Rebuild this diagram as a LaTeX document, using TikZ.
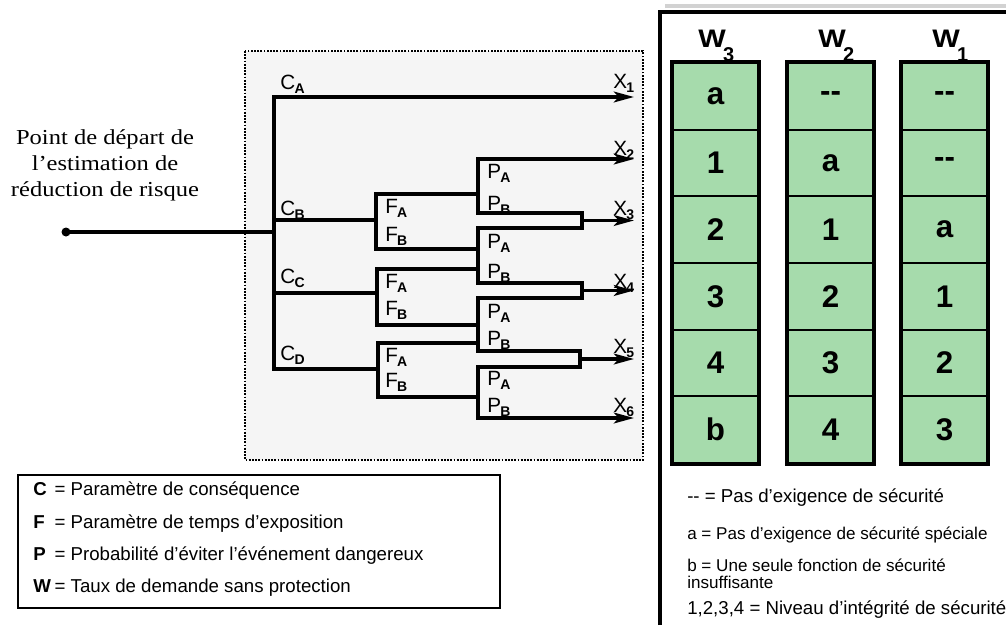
\documentclass[tikz,border=0pt]{standalone}
\usepackage{fontspec}
\setmainfont{Liberation Sans}
\newfontfamily\serifpt[FakeStretch=1.15]{Liberation Serif}
\usetikzlibrary{arrows.meta}

\definecolor{cellgreen}{RGB}{166,219,172}
\definecolor{boxgray}{RGB}{245,245,245}

% letter with its bold index, for the graph labels
\newcommand{\trl}[2]{#1\kern-0.5pt\raisebox{-3pt}{\fontsize{10.5}{10.5}\selectfont\bfseries #2}}
% column heads W1..W3
\newcommand{\wlbl}[1]{\scalebox{1.15}[1]{W}\kern-2pt\raisebox{-11pt}{\fontsize{15}{15}\selectfont #1}}

\begin{document}
\begin{tikzpicture}[x=0.75pt,y=0.75pt,yscale=-1,
  tree/.style={line width=2.6pt,line cap=rect},
  outarrow/.style={tree,-{Stealth[length=15pt,width=8pt,inset=3.5pt]}},
  lbl/.style={anchor=base west,inner sep=0pt,font=\fontsize{15.5}{15.5}\selectfont},
  wcell/.style={draw,line width=1.5pt,fill=cellgreen,minimum width=63.75pt,minimum height=50pt,inner sep=0pt,font=\bfseries\fontsize{23.5}{23.5}\selectfont},
  whead/.style={anchor=base west,inner sep=0pt,font=\bfseries\fontsize{19}{19}\selectfont},
  legl/.style={anchor=base west,inner sep=0pt,font=\fontsize{14}{16}\selectfont},
  legs/.style={anchor=base west,inner sep=0pt,font=\fontsize{12.8}{12.8}\selectfont}]

\useasboundingbox (0,0) rectangle (1006,625);

% dotted frame round the risk graph
\draw [fill=boxgray,line width=2pt,dash pattern=on 1.4pt off 1pt] (245,51) rectangle (643,460);

\node [anchor=north,inner sep=0pt,align=center,font=\serifpt\fontsize{16}{19.5}\selectfont] (startlbl) at (105,129) {Point de départ de\\l’estimation de\\réduction de risque};

% junctions of the graph
\coordinate (start) at (66,232);
\coordinate (root) at (274,232);
\coordinate (cA) at (274,97);
\coordinate (cB) at (274,220);
\coordinate (cC) at (274,293);
\coordinate (cD) at (274,369);

\coordinate (fB) at (376,220);
\coordinate (fBa) at (376,194);
\coordinate (fBb) at (376,249);
\coordinate (fC) at (377,293);
\coordinate (fCa) at (377,269);
\coordinate (fCb) at (377,325);
\coordinate (fD) at (378,369);
\coordinate (fDa) at (378,343);
\coordinate (fDb) at (378,397);

\coordinate (p1t) at (478,159);
\coordinate (p1a) at (478,194);
\coordinate (p1b) at (478,213);
\coordinate (p2t) at (478,228);
\coordinate (p2a) at (478,249);
\coordinate (p2c) at (478,269);
\coordinate (p2b) at (478,283);
\coordinate (p3t) at (478,298);
\coordinate (p3a) at (478,325);
\coordinate (p3c) at (478,343);
\coordinate (p3b) at (478,351);
\coordinate (p4t) at (478,367);
\coordinate (p4a) at (478,397);
\coordinate (p4b) at (478,418);

\coordinate (j1) at (582,220.5);
\coordinate (j2) at (582,290.5);
\coordinate (j3) at (580,359);

\coordinate (e1) at (634,97);
\coordinate (e2) at (634,159);
\coordinate (e3) at (634,220.5);
\coordinate (e4) at (634,290.5);
\coordinate (e5) at (634,359);
\coordinate (e6) at (634,418);

% C branches
\fill (start) circle (4.5);
\draw [tree] (start) -- (root);
\draw [tree] (cA) -- (cD);
\draw [outarrow] (cA) -- (e1);
\draw [tree] (cB) -- (fB);
\draw [tree] (cC) -- (fC);
\draw [tree] (cD) -- (fD);

% F branches
\draw [tree] (fBa) -- (fBb);
\draw [tree] (fCa) -- (fCb);
\draw [tree] (fDa) -- (fDb);
\draw [tree] (fBa) -- (p1a);
\draw [tree] (fBb) -- (p2a);
\draw [tree] (fCa) -- (p2c);
\draw [tree] (fCb) -- (p3a);
\draw [tree] (fDa) -- (p3c);
\draw [tree] (fDb) -- (p4a);

% P branches and outputs
\draw [tree] (p1t) -- (p1b);
\draw [tree] (p2t) -- (p2b);
\draw [tree] (p3t) -- (p3b);
\draw [tree] (p4t) -- (p4b);
\draw [outarrow] (p1t) -- (e2);
\draw [tree] (p1b) -| (j1) |- (p2t);
\draw [outarrow] (j1) -- (e3);
\draw [tree] (p2b) -| (j2) |- (p3t);
\draw [outarrow] (j2) -- (e4);
\draw [tree] (p3b) -| (j3) |- (p4t);
\draw [outarrow] (j3) -- (e5);
\draw [outarrow] (p4b) -- (e6);

% labels of the graph
\node [lbl] (lCA) at (280,89) {\trl{C}{A}};
\node [lbl] (lCB) at (280,215) {\trl{C}{B}};
\node [lbl] (lCC) at (280,283) {\trl{C}{C}};
\node [lbl] (lCD) at (280,360) {\trl{C}{D}};

\node [lbl] (lFBa) at (385,213) {\trl{F}{A}};
\node [lbl] (lFBb) at (385,241) {\trl{F}{B}};
\node [lbl] (lFCa) at (385,288) {\trl{F}{A}};
\node [lbl] (lFCb) at (385,315) {\trl{F}{B}};
\node [lbl] (lFDa) at (385,362) {\trl{F}{A}};
\node [lbl] (lFDb) at (385,387) {\trl{F}{B}};

\node [lbl] (lP1a) at (487,178) {\trl{P}{A}};
\node [lbl] (lP1b) at (487,210) {\trl{P}{B}};
\node [lbl] (lP2a) at (487,248) {\trl{P}{A}};
\node [lbl] (lP2b) at (487,278) {\trl{P}{B}};
\node [lbl] (lP3a) at (487,318) {\trl{P}{A}};
\node [lbl] (lP3b) at (487,345) {\trl{P}{B}};
\node [lbl] (lP4a) at (487,385) {\trl{P}{A}};
\node [lbl] (lP4b) at (487,412) {\trl{P}{B}};

\node [lbl] (lX1) at (613,88) {\trl{X}{1}};
\node [lbl] (lX2) at (613,155) {\trl{X}{2}};
\node [lbl] (lX3) at (613,215) {\trl{X}{3}};
\node [lbl] (lX4) at (613,288) {\trl{X}{4}};
\node [lbl] (lX5) at (613,353) {\trl{X}{5}};
\node [lbl] (lX6) at (613,412) {\trl{X}{6}};

% legend of the parameters
\draw [line width=1.5pt] (18,475) rectangle (500,608);
\node [legl] (legC) at (33,495) {\makebox[16pt][l]{\textbf{C}}= Paramètre de conséquence};
\node [legl] (legF) at (33,528) {\makebox[16pt][l]{\textbf{F}}= Paramètre de temps d’exposition};
\node [legl] (legP) at (33,560) {\makebox[16pt][l]{\textbf{P}}= Probabilité d’éviter l’événement dangereux};
\node [legl] (legW) at (33,592) {\makebox[16pt][l]{\textbf{W}}= Taux de demande sans protection};

% frame of the W table
\draw [line width=3pt,gray!35] (665,6) -- (1006,6);
\draw [line width=3pt] (660,625) -- (660,12) -- (1006,12);

\node [whead] (hw3) at (698,47) {\wlbl{3}};
\node [whead] (hw2) at (818,47) {\wlbl{2}};
\node [whead] (hw1) at (932,47) {\wlbl{1}};

\foreach \col/\cx/\vals in {w3/715.5/{a,1,2,3,4,b},w2/830.5/{-{}-,a,1,2,3,4},w1/944.5/{-{}-,-{}-,a,1,2,3}}{
  \foreach \v [count=\r] in \vals
    \node [wcell] (\col-\r) at (\cx,{63+66.667*(\r-0.5)}) {\v};
  \draw [line width=3pt] (\col-1.north west) rectangle (\col-6.south east);
}

% legend of the table
\node [legl] (legdash) at (687,502) {-{}- = Pas d’exigence de sécurité};
\node [legs] (lega) at (687,539) {a = Pas d’exigence de sécurité spéciale};
\node [legs,anchor=north west,align=left,font=\fontsize{12.8}{12.8}\selectfont] (legb) at (687,559) {b = Une seule fonction de sécurité\\insuffisante};
\node [legl] (legnum) at (687,614) {1,2,3,4 = Niveau d’intégrité de sécurité};

\end{tikzpicture}
\end{document}
